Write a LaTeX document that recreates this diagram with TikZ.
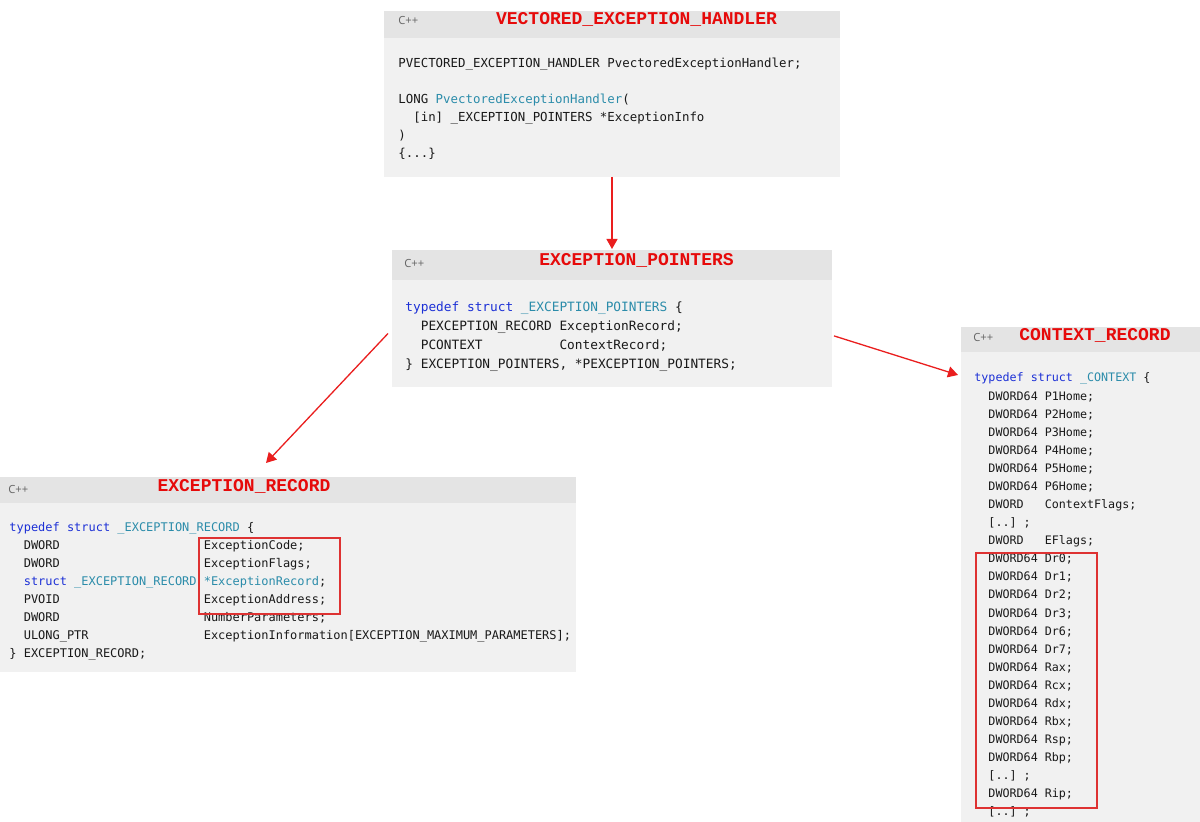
\documentclass[tikz,border=0pt]{standalone}
\usepackage{fontspec}
\setmainfont{Open Sans}
\setmonofont{DejaVu Sans Mono}
\newfontfamily\titlefont{Liberation Mono}
\usetikzlibrary{arrows.meta,positioning}

\definecolor{bodygray}{RGB}{241,241,241}
\definecolor{headgray}{RGB}{228,228,228}
\definecolor{kwblue}{RGB}{28,48,214}
\definecolor{tyteal}{RGB}{43,140,170}
\definecolor{codetext}{RGB}{25,25,25}
\definecolor{langgray}{RGB}{100,100,100}
\definecolor{titlered}{RGB}{230,10,10}
\definecolor{arrowred}{RGB}{234,30,30}
\definecolor{boxred}{RGB}{222,50,50}

\newcommand{\kwd}[1]{\textcolor{kwblue}{#1}}
\newcommand{\typ}[1]{\textcolor{tyteal}{#1}}

\begin{document}
\begin{tikzpicture}[x=0.5pt, y=-0.5pt,
	boxhead/.style	= {fill=headgray, inner sep=0pt, outer sep=0pt},
	boxbody/.style	= {fill=bodygray, inner sep=0pt, outer sep=0pt},
	boxtitle/.style	= {font=\titlefont\bfseries\fontsize{9}{9}\selectfont, text=titlered, anchor=base, inner sep=0pt},
	langtag/.style	= {font=\fontsize{5.6}{6}\selectfont, text=langgray, anchor=base west, inner sep=0pt},
	codetxt/.style	= {text=codetext, align=left, anchor=base west, inner sep=0pt},
	redarrow/.style	= {color=arrowred, line width=0.65pt, -{Triangle[length=5pt, width=5.5pt]}},
	hilite/.style	= {draw=boxred, line width=0.6pt}]

	\fill [white] (0,0) rectangle (1200,822);
	\useasboundingbox (0,0) rectangle (1200,822);

	% the four code boxes
	\node	(vehhead)	[boxhead, minimum width=228pt, minimum height=13.5pt]	at (612,24.5)	{};
	\node	(veh)		[boxbody, minimum width=228pt, minimum height=69.5pt, below=0pt of vehhead]	{};
	\node	(ptrshead)	[boxhead, minimum width=220pt, minimum height=15pt]	at (612,265)	{};
	\node	(ptrs)		[boxbody, minimum width=220pt, minimum height=53.5pt, below=0pt of ptrshead]	{};
	\node	(rechead)	[boxhead, minimum width=288pt, minimum height=13pt]	at (288,490)	{};
	\node	(rec)		[boxbody, minimum width=288pt, minimum height=84.5pt, below=0pt of rechead]	{};
	\node	(ctxhead)	[boxhead, minimum width=122pt, minimum height=12.5pt]	at (1083,339.5)	{};
	\node	(ctx)		[boxbody, minimum width=122pt, minimum height=240pt, below=0pt of ctxhead]	{};

	% headers
	\node	(vehlang)	[langtag]	at (398,24.5)	{C++};
	\node	(vehtitle)	[boxtitle]	at (636.5,25)	{VECTORED\_EXCEPTION\_HANDLER};
	\node	(ptrslang)	[langtag]	at (404,267.5)	{C++};
	\node	(ptrstitle)	[boxtitle]	at (636.5,266)	{EXCEPTION\_POINTERS};
	\node	(reclang)	[langtag]	at (8,493.5)	{C++};
	\node	(rectitle)	[boxtitle]	at (244,492)	{EXCEPTION\_RECORD};
	\node	(ctxlang)	[langtag]	at (973,341.5)	{C++};
	\node	(ctxtitle)	[boxtitle]	at (1095,341)	{CONTEXT\_RECORD};

	% code (placed at the baseline of the last line)
	\node	(vehcode)	[codetxt, font=\ttfamily\fontsize{6.2}{9}\selectfont]	at (398,158)
		{PVECTORED\_EXCEPTION\_HANDLER PvectoredExceptionHandler;\\[9pt]
		 LONG \typ{PvectoredExceptionHandler}(\\
		 ~~[in] \_EXCEPTION\_POINTERS *ExceptionInfo\\
		 )\\
		 \{...\}};
	\node	(ptrscode)	[codetxt, font=\ttfamily\fontsize{6.4}{9.5}\selectfont]	at (405,368.5)
		{\kwd{typedef struct} \typ{\_EXCEPTION\_POINTERS} \{\\
		 ~~PEXCEPTION\_RECORD ExceptionRecord;\\
		 ~~PCONTEXT~~~~~~~~~~ContextRecord;\\
		 \} EXCEPTION\_POINTERS, *PEXCEPTION\_POINTERS;};
	\node	(reccode)	[codetxt, font=\ttfamily\fontsize{5.98}{9}\selectfont]	at (9,657.5)
		{\kwd{typedef struct} \typ{\_EXCEPTION\_RECORD} \{\\
		 ~~DWORD~~~~~~~~~~~~~~~~~~~~ExceptionCode;\\
		 ~~DWORD~~~~~~~~~~~~~~~~~~~~ExceptionFlags;\\
		 ~~\kwd{struct} \typ{\_EXCEPTION\_RECORD} \typ{*ExceptionRecord};\\
		 ~~PVOID~~~~~~~~~~~~~~~~~~~~ExceptionAddress;\\
		 ~~DWORD~~~~~~~~~~~~~~~~~~~~NumberParameters;\\
		 ~~ULONG\_PTR~~~~~~~~~~~~~~~~ExceptionInformation[EXCEPTION\_MAXIMUM\_PARAMETERS];\\
		 \} EXCEPTION\_RECORD;};
	\node	(ctxcode)	[codetxt, font=\ttfamily\fontsize{5.85}{9.04}\selectfont]	at (974,815.9)
		{\kwd{typedef struct} \typ{\_CONTEXT} \{\\
		 ~~DWORD64 P1Home;\\
		 ~~DWORD64 P2Home;\\
		 ~~DWORD64 P3Home;\\
		 ~~DWORD64 P4Home;\\
		 ~~DWORD64 P5Home;\\
		 ~~DWORD64 P6Home;\\
		 ~~DWORD~~~ContextFlags;\\
		 ~~[..] ;\\
		 ~~DWORD~~~EFlags;\\
		 ~~DWORD64 Dr0;\\
		 ~~DWORD64 Dr1;\\
		 ~~DWORD64 Dr2;\\
		 ~~DWORD64 Dr3;\\
		 ~~DWORD64 Dr6;\\
		 ~~DWORD64 Dr7;\\
		 ~~DWORD64 Rax;\\
		 ~~DWORD64 Rcx;\\
		 ~~DWORD64 Rdx;\\
		 ~~DWORD64 Rbx;\\
		 ~~DWORD64 Rsp;\\
		 ~~DWORD64 Rbp;\\
		 ~~[..] ;\\
		 ~~DWORD64 Rip;\\
		 ~~[..] ;};

	% highlighted fields
	\draw	[hilite]	(199,538) rectangle (340,614);
	\draw	[hilite]	(976,553) rectangle (1097,808);

	\path [redarrow]
	(veh.south)	edge	([yshift=0.5pt]ptrshead.north)
	([xshift=-2pt]ptrs.west)	edge	([xshift=-11pt, yshift=7pt]rechead.north)
	([xshift=1pt, yshift=-1.2pt]ptrs.east)	edge	([xshift=-1.5pt, yshift=-11.5pt]ctx.north west)
	;
\end{tikzpicture}
\end{document}
